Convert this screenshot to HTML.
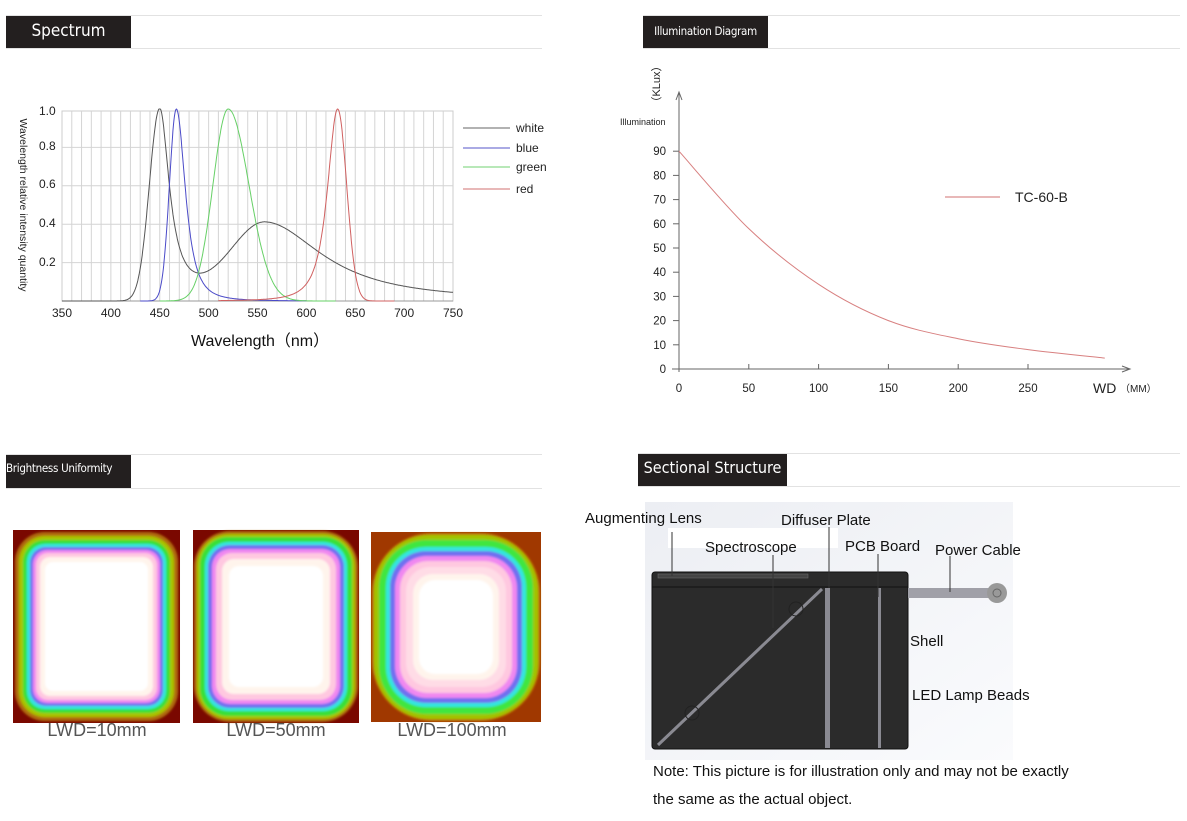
<!DOCTYPE html>
<html><head><meta charset="utf-8"><style>
body{margin:0;width:1187px;height:821px;background:#fff;font-family:"Liberation Sans",sans-serif;overflow:hidden;position:relative}
.a{position:absolute;white-space:nowrap}
.hl{position:absolute;height:1px;background:#e2e2e2}
.hb{position:absolute;background:#231f1f;color:#fff;font-family:"DejaVu Sans Condensed","Liberation Sans Narrow","Liberation Sans",sans-serif}
</style></head><body>
<div class="hl" style="left:6px;top:15px;width:536px"></div><div class="hl" style="left:6px;top:48px;width:536px"></div>
<div class="hb" style="left:6px;top:16px;width:125px;height:32px;font-size:17px;line-height:30px;text-align:center">Spectrum</div>
<div class="hl" style="left:643px;top:15px;width:537px"></div><div class="hl" style="left:643px;top:48px;width:537px"></div>
<div class="hb" style="left:643px;top:16px;width:125px;height:32px;font-size:11.5px;line-height:30px;text-align:center;letter-spacing:-0.3px">Illumination Diagram</div>
<div class="hl" style="left:6px;top:454px;width:536px"></div><div class="hl" style="left:6px;top:488px;width:536px"></div>
<div class="hb" style="left:6px;top:455px;width:125px;height:33px;font-size:11.5px;line-height:26px;letter-spacing:-0.3px">Brightness Uniformity</div>
<div class="hl" style="left:638px;top:453px;width:542px"></div><div class="hl" style="left:638px;top:486px;width:542px"></div>
<div class="hb" style="left:638px;top:454px;width:149px;height:32px;font-size:16px;line-height:28px;text-align:center">Sectional Structure</div>

<svg class="a" style="left:0;top:0" width="1187" height="821" id="sv">
<g id="grid"></g>
<g font-family="Liberation Sans" font-size="12" fill="#222">
<text x="20" y="205" transform="rotate(90 20 205)" text-anchor="middle" font-size="10.5" fill="#222">Wavelength relative intensity quantity</text>
<text x="39" y="115">1.0</text><text x="39" y="150">0.8</text><text x="39" y="188">0.6</text><text x="39" y="227">0.4</text><text x="39" y="266">0.2</text>
</g>
<g id="xl" font-family="Liberation Sans" font-size="12" fill="#222" text-anchor="middle"></g>
<text x="191" y="346" font-family="Liberation Sans" font-size="16" fill="#111">Wavelength（nm）</text>
<g stroke-width="1" fill="none">
<line x1="463" y1="128" x2="510" y2="128" stroke="#666"/><line x1="463" y1="148" x2="510" y2="148" stroke="#5555c8"/>
<line x1="463" y1="167" x2="510" y2="167" stroke="#70d070"/><line x1="463" y1="189" x2="510" y2="189" stroke="#d07070"/>
</g>
<g font-family="Liberation Sans" font-size="12" fill="#222"><text x="516" y="132">white</text><text x="516" y="152">blue</text><text x="516" y="171">green</text><text x="516" y="193">red</text></g>
<g id="curves" fill="none" stroke-width="1"></g>

<g stroke="#666" fill="none" stroke-width="1">
<line x1="679" y1="92" x2="679" y2="372"/><polyline points="676,100 679,92 682,100"/>
<line x1="672" y1="369" x2="1130" y2="369"/><polyline points="1122,366 1130,369 1122,372"/>
</g>
<g id="ilt" stroke="#666"></g>
<g id="ill" font-family="Liberation Sans" font-size="11.5" fill="#222"></g>
<text x="620" y="125" font-family="Liberation Sans" font-size="9" fill="#222">Illumination</text>
<text x="660" y="84" transform="rotate(-90 660 84)" text-anchor="middle" font-family="Liberation Sans" font-size="11" fill="#222">（KLux）</text>
<text x="1093" y="393" font-family="Liberation Sans" font-size="14" fill="#222">WD</text>
<text x="1120" y="392" font-family="Liberation Sans" font-size="10" fill="#222">（MM）</text>
<line x1="945" y1="197" x2="1000" y2="197" stroke="#d07070"/>
<text x="1015" y="202" font-family="Liberation Sans" font-size="14" fill="#222">TC-60-B</text>
<path id="ic" fill="none" stroke="#d88080" stroke-width="1"/>

<defs><filter id="bl"><feGaussianBlur stdDeviation="1"/></filter>
<linearGradient id="bg" x1="0" y1="0" x2="1" y2="1"><stop offset="0" stop-color="#eceef3"/><stop offset="1" stop-color="#fafbfd"/></linearGradient></defs>
<g id="sqs"></g>
<g font-family="Liberation Sans" font-size="18" fill="#555" text-anchor="middle">
<text x="97" y="736">LWD=10mm</text><text x="276" y="736">LWD=50mm</text><text x="452" y="736">LWD=100mm</text></g>

<rect x="645" y="502" width="368" height="258" fill="url(#bg)"/>
<rect x="668" y="528" width="170" height="20" fill="#fff"/>
<rect x="652" y="572" width="256" height="177" rx="3" fill="#2b2b2b" stroke="#111"/>
<line x1="652" y1="587" x2="908" y2="587" stroke="#111"/>
<rect x="658" y="574" width="150" height="4" fill="#444" stroke="#666" stroke-width="0.6"/>
<line x1="658" y1="745" x2="822" y2="589" stroke="#8a8a92" stroke-width="3"/>
<rect x="825" y="588" width="5" height="160" fill="#8a8a92"/>
<rect x="878" y="588" width="3" height="160" fill="#8a8a92"/>
<circle cx="796" cy="609" r="7" fill="none" stroke="#222"/><circle cx="692" cy="713" r="7" fill="none" stroke="#222"/>
<rect x="908" y="588" width="82" height="10" fill="#a0a0a8"/>
<circle cx="997" cy="593" r="10" fill="#999"/><circle cx="997" cy="593" r="4" fill="none" stroke="#666"/>
<g stroke="#333" stroke-width="1"><line x1="672" y1="532" x2="672" y2="576"/><line x1="773" y1="555" x2="773" y2="628"/><line x1="829" y1="527" x2="829" y2="588"/><line x1="878" y1="554" x2="878" y2="597"/><line x1="950" y1="556" x2="950" y2="592"/></g>
<g font-family="Liberation Sans" font-size="15" fill="#111">
<text x="585" y="523">Augmenting Lens</text><text x="781" y="525">Diffuser Plate</text><text x="705" y="552">Spectroscope</text>
<text x="845" y="551">PCB Board</text><text x="935" y="555">Power Cable</text><text x="910" y="646">Shell</text><text x="912" y="700">LED Lamp Beads</text>
<text x="653" y="776">Note: This picture is for illustration only and may not be exactly</text>
<text x="653" y="804">the same as the actual object.</text></g>
</svg>
<script>
var NS="http://www.w3.org/2000/svg";
function el(p,t,a){var e=document.createElementNS(NS,t);for(var k in a)e.setAttribute(k,a[k]);p.appendChild(e);return e;}
var X=function(l){return 62+(l-350)*391/400},Y=function(v){return 301-192*v};
var g=document.getElementById('grid');
el(g,'rect',{x:62,y:111,width:391,height:190,fill:'none',stroke:'#ccc'});
for(var l=360;l<750;l+=10)el(g,'line',{x1:X(l),y1:111,x2:X(l),y2:301,stroke:'#d4d4d4'});
[0.2,0.4,0.6,0.8].forEach(function(v){el(g,'line',{x1:62,y1:Y(v),x2:453,y2:Y(v),stroke:'#d4d4d4'})});
el(g,'line',{x1:62,y1:301,x2:453,y2:301,stroke:'#999'});
var xl=document.getElementById('xl');
for(var l=350;l<=750;l+=50){var t=el(xl,'text',{x:X(l),y:317});t.textContent=l;}
function path(f,a,b,c){var d='';for(var l=a;l<=b;l+=0.5){d+=(l==a?'M':'L')+X(l).toFixed(1)+','+Y(f(l)).toFixed(1);}el(document.getElementById('curves'),'path',{d:d,stroke:c});}
path(function(l){var b=l<450?Math.exp(-Math.pow((l-450)/15,2)):1/(1+Math.pow((l-450)/12,2));var p=l<558?0.4*Math.exp(-Math.pow((l-558)/50,2)):0.4/Math.pow(1+Math.pow((l-558)/75,2),1.1);return Math.min(1,b+p);},350,750,'#555');
path(function(l){return l<467?Math.exp(-Math.pow((l-467)/10,2)):1/Math.pow(1+Math.pow((l-467)/14,2),1.5)},430,600,'#4a4ac8');
path(function(l){return l<520?Math.exp(-Math.pow((l-520)/22,2)):Math.exp(-Math.pow((l-520)/30,2))},450,630,'#66d066');
path(function(l){return l<632?1/Math.pow(1+Math.pow((632-l)/16,2),1.5):Math.exp(-Math.pow((l-632)/13,2))},510,690,'#d06060');
var IX=function(w){return 679+w*1.396},IY=function(v){return 369-v*2.42};
var il=document.getElementById('ill'),it=document.getElementById('ilt');
for(var v=0;v<=90;v+=10){var t=el(il,'text',{x:666,y:IY(v)+4,'text-anchor':'end'});t.textContent=v;el(it,'line',{x1:673,y1:IY(v),x2:679,y2:IY(v)});}
for(var w=0;w<=250;w+=50){var t=el(il,'text',{x:IX(w),y:392,'text-anchor':'middle'});t.textContent=w;el(it,'line',{x1:IX(w),y1:369,x2:IX(w),y2:364});}
var P=[[0,90],[50,58],[100,35],[150,20],[200,12.5],[250,8],[305,4.5]].map(function(p){return[IX(p[0]),IY(p[1])]});
var d='M'+P[0];for(var i=0;i<P.length-1;i++){var p0=P[Math.max(0,i-1)],p1=P[i],p2=P[i+1],p3=P[Math.min(P.length-1,i+2)];
d+='C'+(p1[0]+(p2[0]-p0[0])/6)+','+(p1[1]+(p2[1]-p0[1])/6)+' '+(p2[0]-(p3[0]-p1[0])/6)+','+(p2[1]-(p3[1]-p1[1])/6)+' '+p2[0]+','+p2[1];}
document.getElementById('ic').setAttribute('d',d);
var sq=document.getElementById('sqs');
function square(x,y,w,h,bg,layers){var gg=el(sq,'g',{});el(gg,'rect',{x:x,y:y,width:w,height:h,fill:bg});var f=el(gg,'g',{filter:'url(#bl)'});
layers.forEach(function(L){el(f,'rect',{x:x+L[0],y:y+L[0],width:w-2*L[0],height:h-2*L[0],rx:L[1],fill:L[2]})});}
var c=['#b06a10','#a8c400','#38e038','#30e6e0','#7070f0','#f088f0','#ffc8e0','#fff4ec','#ffffff'];
square(13,530,167,193,'#7a0800',[[2,30,c[0]],[6,26,c[1]],[10,22,c[2]],[14,18,c[3]],[17,16,c[4]],[20,14,c[5]],[23,12,c[6]],[27,10,c[7]],[32,8,c[8]]]);
square(193,530,166,193,'#7a0800',[[1,36,c[0]],[4,32,c[1]],[7,28,c[2]],[12,24,c[3]],[15,22,c[4]],[19,18,c[5]],[23,16,c[6]],[29,12,c[7]],[36,10,c[8]]]);
square(371,532,170,190,'#a03800',[[1,60,'#c07a10'],[3,56,'#a0c400'],[8,48,'#40e640'],[15,40,c[3]],[19,36,c[4]],[24,32,c[5]],[29,28,c[6]],[35,24,'#ffdce6'],[42,20,c[7]],[48,16,c[8]]]);
</script>
</body></html>
